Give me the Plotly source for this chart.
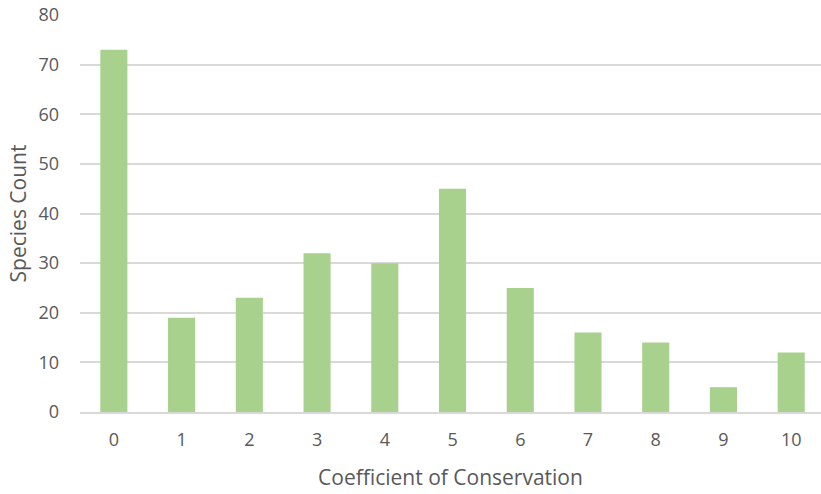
import plotly.graph_objects as go

# Species counts per coefficient of conservation
coefficients = [0, 1, 2, 3, 4, 5, 6, 7, 8, 9, 10]
species_count = [73, 19, 23, 32, 30, 45, 25, 16, 14, 5, 12]
y_ticks = [0, 10, 20, 30, 40, 50, 60, 70, 80]

text_color = "#595959"
font_family = "Open Sans, Liberation Sans, sans-serif"

fig = go.Figure(
    go.Bar(
        x=coefficients,
        y=species_count,
        marker=dict(color="#A9D18E", line=dict(width=0)),
    )
)

fig.update_layout(
    width=821,
    height=494,
    margin=dict(l=80, r=0, t=15, b=82),
    paper_bgcolor="white",
    plot_bgcolor="white",
    bargap=0.6,
    showlegend=False,
    font=dict(family=font_family, color=text_color, size=18),
)

fig.update_xaxes(
    range=[-0.5, 10.44],
    tickmode="array",
    tickvals=coefficients,
    ticktext=[str(c) for c in coefficients],
    showgrid=False,
    showline=True,
    linecolor="#D9D9D9",
    linewidth=1.5,
    ticks="",
    ticklabelstandoff=11,
    tickfont=dict(size=18, color=text_color),
    title=dict(text="Coefficient of Conservation", font=dict(size=21, color=text_color), standoff=20),
)

fig.update_yaxes(
    range=[0, 80],
    tickmode="array",
    tickvals=y_ticks,
    showgrid=True,
    gridcolor="#D9D9D9",
    gridwidth=1.5,
    zeroline=False,
    showline=False,
    ticks="",
    ticklabelstandoff=20,
    tickfont=dict(size=18, color=text_color),
    title=dict(text="Species Count", font=dict(size=21, color=text_color), standoff=6),
)

fig.write_html("out.html")
